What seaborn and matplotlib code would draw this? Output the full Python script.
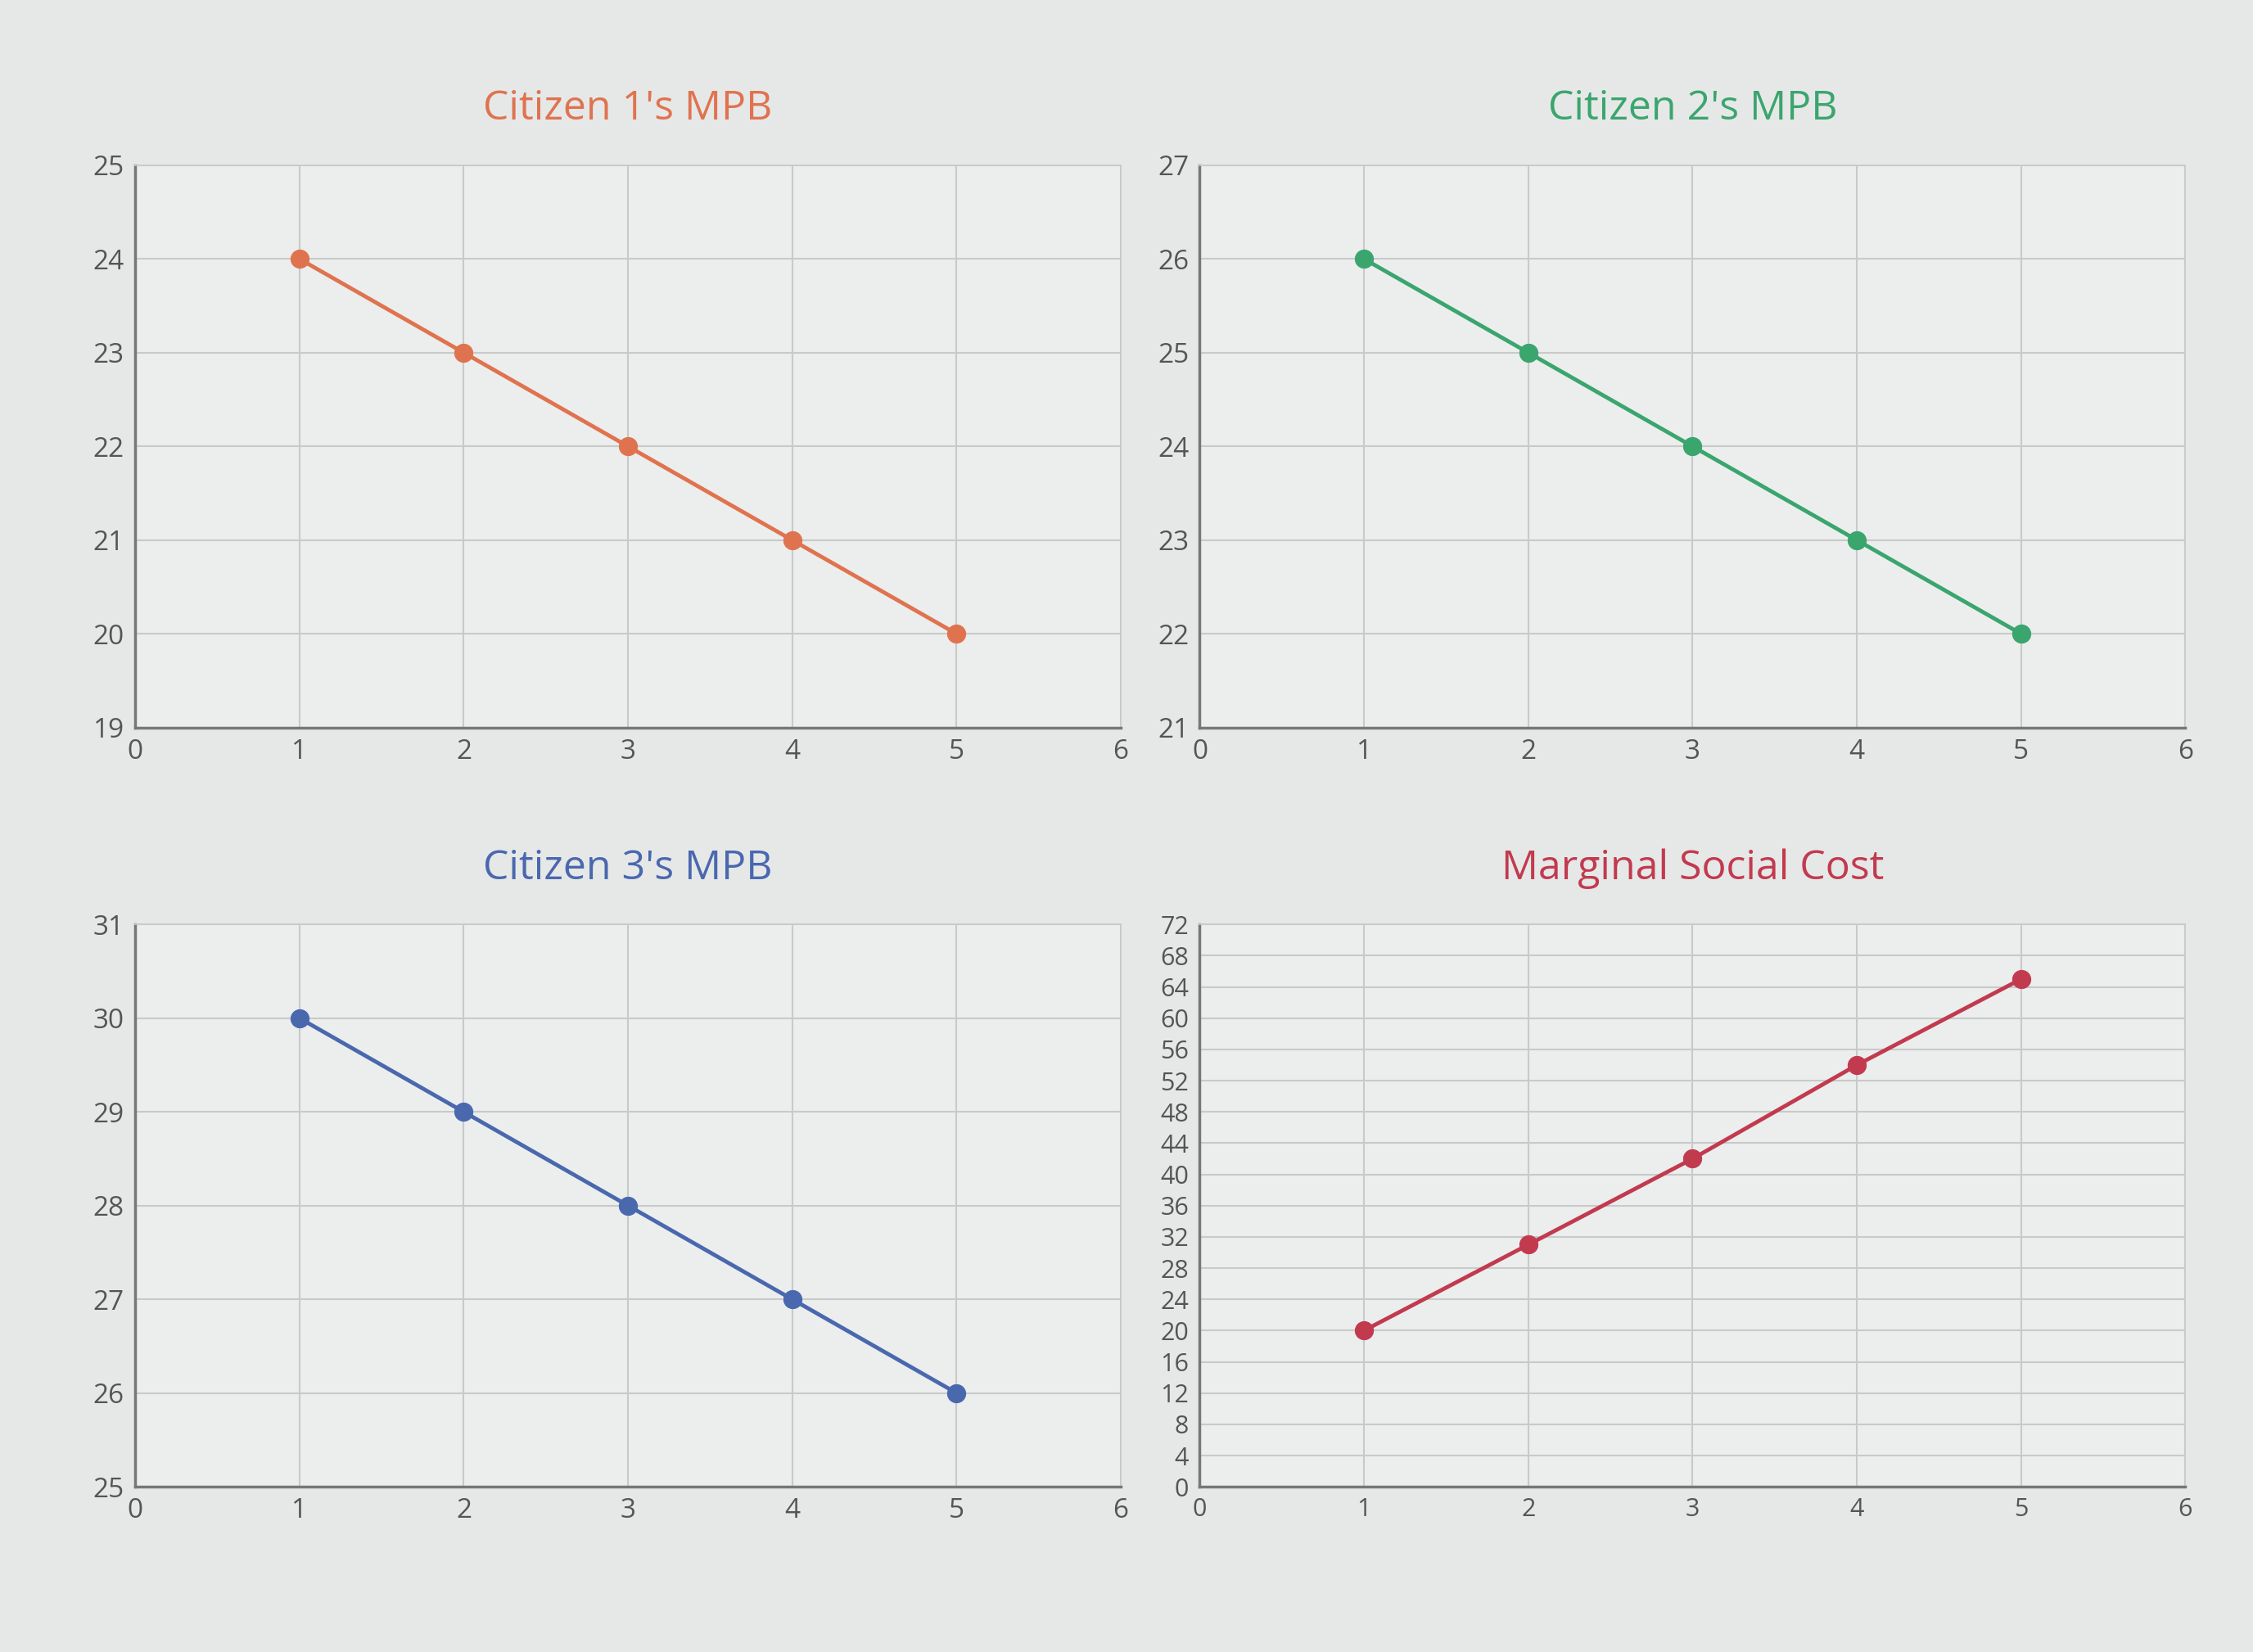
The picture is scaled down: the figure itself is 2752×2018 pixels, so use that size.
import matplotlib
matplotlib.use("Agg")
import matplotlib.pyplot as plt
import seaborn as sns
import numpy as np

sns.set_theme(style="whitegrid")
plt.rcParams['font.family'] = ['Open Sans', 'DejaVu Sans']

quantity = [1, 2, 3, 4, 5]
citizen1_mpb = [24, 23, 22, 21, 20]
citizen2_mpb = [26, 25, 24, 23, 22]
citizen3_mpb = [30, 29, 28, 27, 26]
marginal_social_cost = [20, 31, 42, 54, 65]

panels = [
    ("Citizen 1's MPB", citizen1_mpb, "#E0734F", (19, 25), 1),
    ("Citizen 2's MPB", citizen2_mpb, "#3BA56E", (21, 27), 1),
    ("Citizen 3's MPB", citizen3_mpb, "#4A68AE", (25, 31), 1),
    ("Marginal Social Cost", marginal_social_cost, "#C23A4E", (0, 72), 4),
]

fig, axes = plt.subplots(2, 2, figsize=(27.52, 20.18), dpi=100)
fig.patch.set_facecolor("#E6E8E8")
for ax, (title, vals, color, ylim, step) in zip(axes.flat, panels):
    ax.set_facecolor("#ECEEEE")
    sns.lineplot(x=quantity, y=vals, ax=ax, color=color, marker="o",
                 markersize=16, linewidth=3.5, markeredgecolor=color)
    ax.set_xlim(0, 6)
    ax.set_ylim(*ylim)
    ax.set_xticks(range(0, 7))
    ax.set_yticks(np.arange(ylim[0], ylim[1] + step, step))
    ax.tick_params(labelsize=24 if step == 1 else 22, colors="#555555")
    ax.grid(color="#C8CACA", linewidth=1.5)
    for s in ["top", "right"]:
        ax.spines[s].set_color("#C8CACA")
    for s in ["left", "bottom"]:
        ax.spines[s].set_color("#777777")
        ax.spines[s].set_linewidth(2.5)
    ax.set_title(title, color=color, fontsize=36, pad=40)

fig.subplots_adjust(left=0.06, right=0.97, top=0.90, bottom=0.10, hspace=0.35, wspace=0.08)
fig.savefig("out.png", facecolor=fig.get_facecolor())
